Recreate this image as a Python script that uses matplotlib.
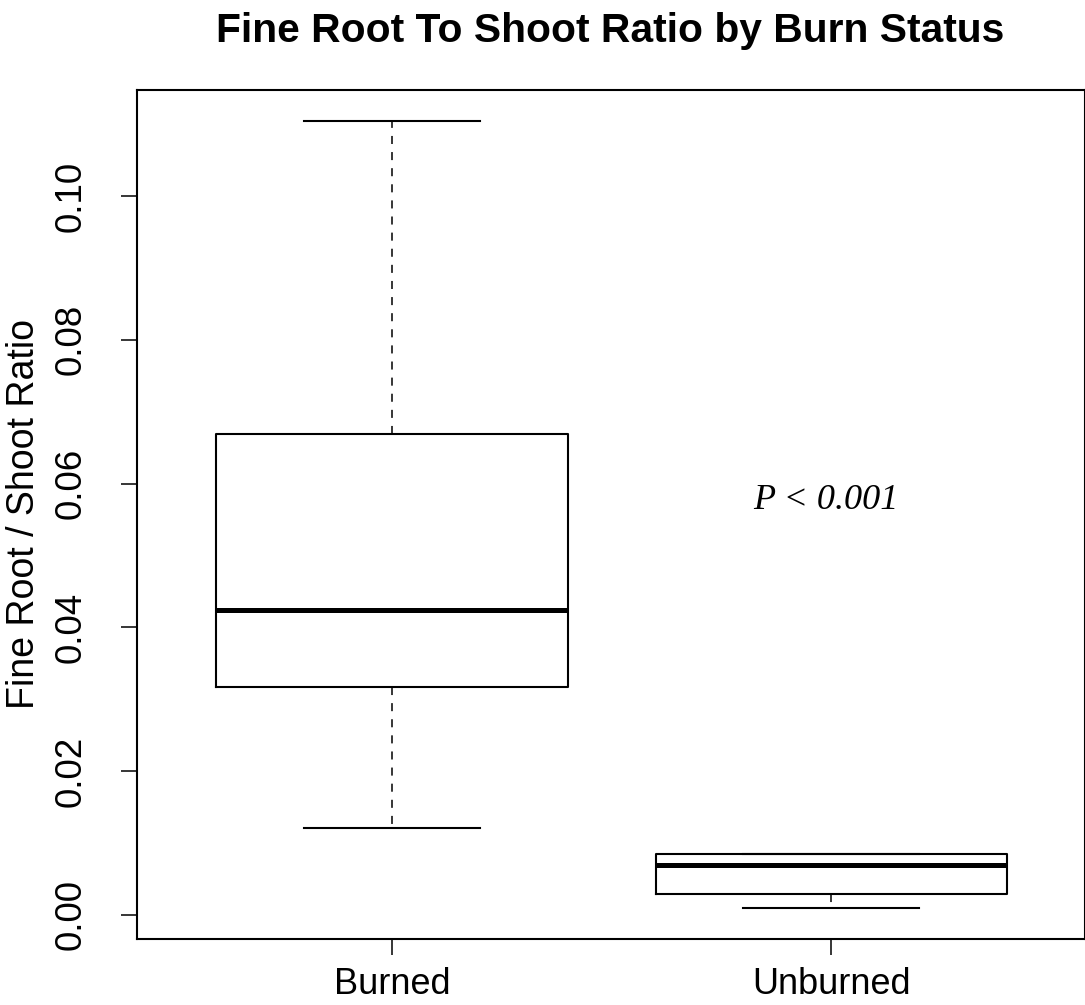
import matplotlib
matplotlib.use("Agg")
import matplotlib.pyplot as plt

plt.rcParams['font.family'] = ['Liberation Sans', 'DejaVu Sans']
plt.rcParams['lines.scale_dashes'] = False

groups = ['Burned', 'Unburned']
whis_lo = [0.0121, 0.00097]
q1 = [0.0317, 0.00292]
med = [0.0424, 0.00695]
q3 = [0.0669, 0.00848]
whis_hi = [0.1104, 0.00848]

stats = []
for g, lo, a, m, b, hi in zip(groups, whis_lo, q1, med, q3, whis_hi):
    stats.append({'label': g, 'whislo': lo, 'q1': a, 'med': m, 'q3': b,
                  'whishi': hi, 'fliers': []})

W, H = 1085, 1005
fig = plt.figure(figsize=(W / 100, H / 100), dpi=100)
ax = fig.add_axes([137 / W, (H - 939) / H, (1084.5 - 137) / W, (939 - 90) / H])

ax.bxp(stats, positions=[1, 2], widths=0.8, capwidths=0.4, showfliers=False,
       boxprops=dict(color='black', linewidth=1.5),
       medianprops=dict(color='black', linewidth=3.6, solid_capstyle='butt'),
       whiskerprops=dict(color='black', linewidth=1.1, linestyle=(0, (5.8, 5.8))),
       capprops=dict(color='black', linewidth=1.5))

ax.set_xlim(0.419, 2.577)
ax.set_ylim(-0.00334, 0.11474)
ax.set_yticks([0.00, 0.02, 0.04, 0.06, 0.08, 0.10])
ax.set_yticklabels(['0.00', '0.02', '0.04', '0.06', '0.08', '0.10'],
                   rotation=90, va='center')
ax.tick_params(axis='y', length=11.5, width=1.1, labelsize=26.5, pad=23)
ax.tick_params(axis='x', length=11.5, width=1.1, labelsize=26, pad=9)

for side in ['top', 'right', 'bottom', 'left']:
    ax.spines[side].set_linewidth(1.5)

fig.text(24 / W, 1 - 514 / H, 'Fine Root / Shoot Ratio', fontsize=27,
         rotation=90, ha='center', va='center')
fig.text(610 / W, 1 - 31 / H, 'Fine Root To Shoot Ratio by Burn Status',
         fontsize=29.3, fontweight='bold', ha='center', va='center')

ax.text(1.989, 0.0577, 'P < 0.001', fontsize=26, style='italic',
        family='Liberation Serif', ha='center', va='center')

fig.savefig('out.png', dpi=100)
